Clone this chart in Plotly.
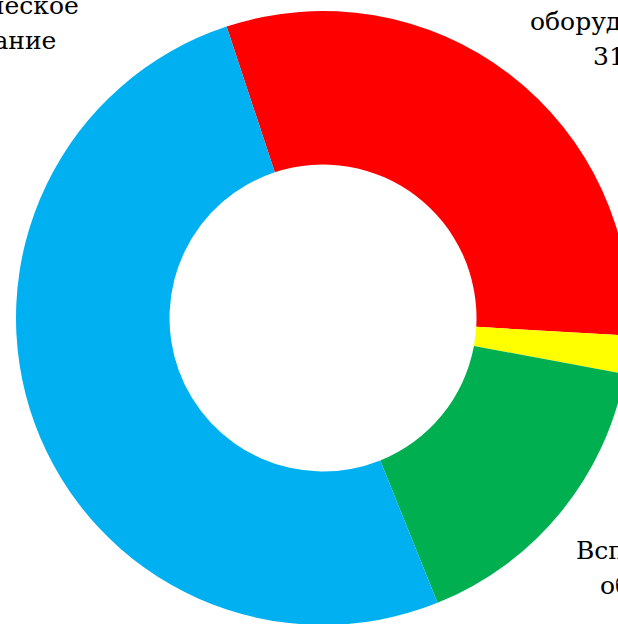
import plotly.graph_objects as go

# Data
categories = ["Основное оборудование", "Прочее", "Вспомогательное оборудование", "Технологическое оборудование"]
values = [31, 2, 16, 51]
colors = ["#FF0000", "#FFFF00", "#00B050", "#00B0F0"]
label_lines = [
    ["Основное", "оборудование", "31%"],
    ["Прочее", "2%"],
    ["Вспомогательное", "оборудование", "16%"],
    ["Технологическое", "оборудование", "51%"],
]

W, H = 646, 640
FONT_SIZE = 25
LINE_PITCH = 35

def px(x, y):
    return x / W, 1 - y / H

fig = go.Figure(go.Pie(
    labels=categories,
    values=values,
    marker=dict(colors=colors, line=dict(width=0)),
    hole=0.5,
    sort=False,
    direction="clockwise",
    rotation=-18.3,
    textinfo="none",
    hoverinfo="label+percent",
    showlegend=False,
    domain=dict(x=[0, 1], y=[1 - 625 / H, 1 - 11 / H]),
))

# label anchors: (centre x, baseline of first line), pixels
label_pos = [(621, -6), (700, 380), (691, 558), (-36, 13)]
for lines, (lx, by) in zip(label_lines, label_pos):
    for i, line in enumerate(lines):
        x, y = px(lx, by + i * LINE_PITCH - 0.32 * FONT_SIZE)
        fig.add_annotation(
            text=line, x=x, y=y, xref="paper", yref="paper",
            xanchor="center", yanchor="middle", showarrow=False,
            font=dict(family="DejaVu Serif", size=FONT_SIZE, color="#000000"),
        )

fig.update_layout(
    width=W, height=H,
    margin=dict(l=0, r=0, t=0, b=0),
    paper_bgcolor="#FFFFFF",
    plot_bgcolor="#FFFFFF",
)

fig.write_html(
    "out.html",
    config={"displayModeBar": False},
    post_script="document.body.style.margin='0';document.body.style.overflow='hidden';",
)
